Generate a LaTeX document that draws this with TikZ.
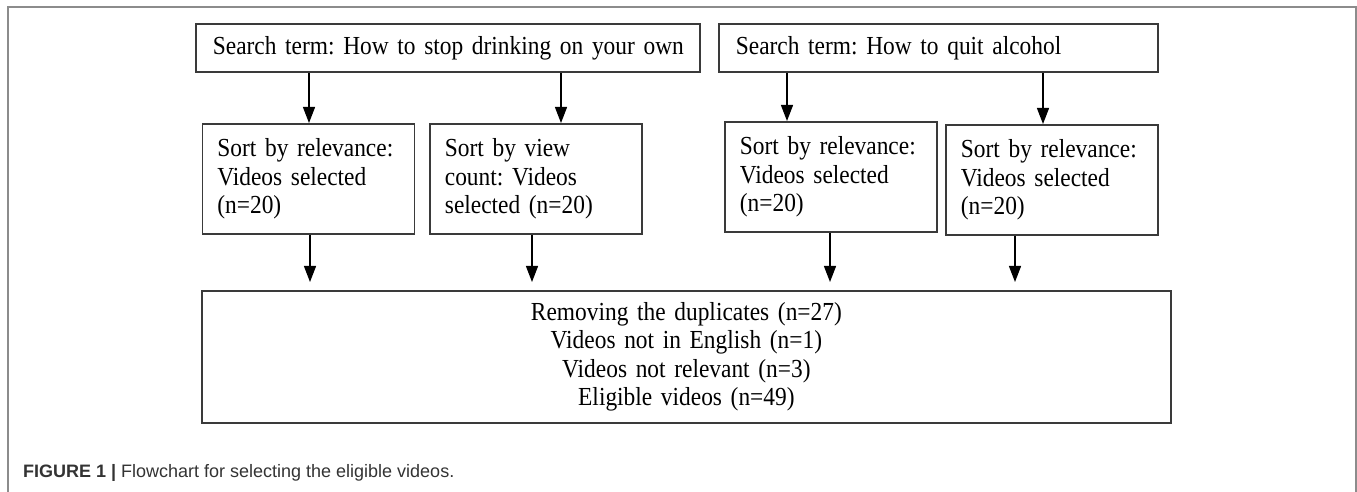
\documentclass[tikz,border=0pt]{standalone}
\usepackage{fontspec}
\setmainfont{Liberation Serif}[FakeStretch=0.9, WordSpace=0.9]
\newfontfamily\capfont{Liberation Sans}
\usetikzlibrary{arrows.meta}
\frenchspacing

\definecolor{boxline}{HTML}{3A3A3A}
\definecolor{framegray}{HTML}{8C8C8C}
\definecolor{captext}{HTML}{333333}

\tikzset{
  flow/.style={-{Triangle[length=8pt,width=6pt]}, line width=0.65pt, black},
  termbox/.style={draw=boxline, line width=0.9pt, anchor=north west, align=left,
    inner xsep=8.5pt, minimum height=24pt, font=\fontsize{13}{14.2}\selectfont},
  sortbox/.style={draw=boxline, line width=0.9pt, anchor=north west, align=left,
    text width=91pt, inner xsep=7.5pt, minimum height=55pt, font=\fontsize{13}{14.2}\selectfont},
  mergebox/.style={draw=boxline, line width=0.9pt, anchor=north west, align=center,
    text width=468.5pt, inner xsep=8pt, minimum height=66pt, font=\fontsize{13}{14.2}\selectfont}
}

\begin{document}
\begin{tikzpicture}[x=0.5pt, y=-0.5pt]
  \useasboundingbox (0,0) rectangle (1357,492);
  \draw[framegray, line width=1pt] (7.5,520) -- (7.5,7) -- (1355.5,7) -- (1355.5,520);

  % search terms
  \node[termbox, text width=235pt] (term1) at (195,23) {\mbox{Search term: How to stop drinking on your own}};
  \node[termbox, text width=202.5pt] (term2) at (718,23) {\mbox{Search term: How to quit alcohol}};

  % sorted lists
  \node[sortbox] (sortA) at (201.5,123) {Sort by relevance:\\Videos selected\\(n=20)};
  \node[sortbox] (sortB) at (429,123) {Sort by view\\count: Videos\\selected (n=20)};
  \node[sortbox] (sortC) at (724,121) {Sort by relevance:\\Videos selected\\(n=20)};
  \node[sortbox] (sortD) at (945,124) {Sort by relevance:\\Videos selected\\(n=20)};

  \node[mergebox] (merge) at (201,290) {Removing the duplicates (n=27)\\Videos not in English (n=1)\\Videos not relevant (n=3)\\Eligible videos (n=49)};

  \coordinate (inA) at (309,0);
  \coordinate (inB) at (561,0);
  \coordinate (inC) at (787,0);
  \coordinate (inD) at (1043,0);
  \coordinate (outA) at (310,0);
  \coordinate (outB) at (532,0);
  \coordinate (outC) at (830,0);
  \coordinate (outD) at (1015,0);

  \foreach \src/\dst/\col in {term1/sortA/inA, term1/sortB/inB, term2/sortC/inC, term2/sortD/inD}
    \draw[flow] (\src.south -| \col) -- (\dst.north -| \col);
  \foreach \src/\col in {sortA/outA, sortB/outB, sortC/outC, sortD/outD}
    \draw[flow, shorten >=4pt] (\src.south -| \col) -- (merge.north -| \col);

  \node[anchor=base west, inner sep=0pt, text=captext, font=\capfont\fontsize{9}{11}\selectfont] (caption)
    at (22.7,477) {\textbf{FIGURE 1 |} Flowchart for selecting the eligible videos.};
\end{tikzpicture}
\end{document}
